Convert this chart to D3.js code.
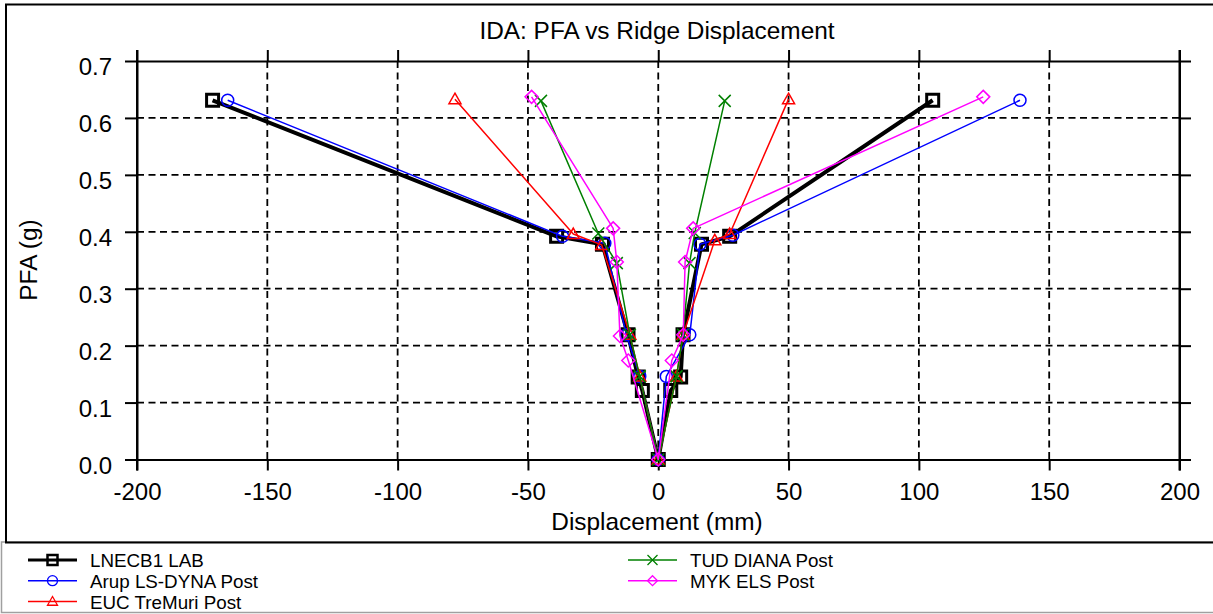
<!DOCTYPE html>
<html>
<head>
<meta charset="utf-8">
<script src="https://cdn.jsdelivr.net/npm/d3@7"></script>
<style>
  html, body { margin: 0; padding: 0; background: #fff; }
  svg { display: block; font-family: "Liberation Sans", Arial, sans-serif; }
</style>
</head>
<body>
<svg id="chart" width="1213" height="614"></svg>
<script>
// tick values
const xTicks = [-200, -150, -100, -50, 0, 50, 100, 150, 200];
const yTicks = [0, 0.1, 0.2, 0.3, 0.4, 0.5, 0.6, 0.7];

// series, each ordered from the negative tip through zero to the positive tip
const lnecDisp = [-171, -39, -21.4, -11.6, -7.7, -6.1, 0, 4.8, 8.6, 9.5, 16.6, 27.4, 105.3];
const lnecPfa  = [0.631, 0.392, 0.378, 0.219, 0.145, 0.121, 0, 0.121, 0.145, 0.219, 0.378, 0.392, 0.631];

const arupDisp = [-165.2, -36.7, -20.5, -12.2, -7.1, 0, 3.1, 12.1, 16, 28.6, 138.8];
const arupPfa  = [0.631, 0.392, 0.38, 0.219, 0.146, 0, 0.146, 0.219, 0.378, 0.394, 0.631];

const eucDisp = [-78, -32.6, -21.7, -10.9, -7.1, 0, 7, 9.5, 21.7, 27.4, 50];
const eucPfa  = [0.633, 0.396, 0.377, 0.219, 0.146, 0, 0.146, 0.219, 0.385, 0.396, 0.633];

const tudDisp = [-45, -23, -15.9, -10.9, -7.1, 0, 7, 9.5, 12, 14, 25.5];
const tudPfa  = [0.63, 0.397, 0.345, 0.219, 0.146, 0, 0.146, 0.219, 0.345, 0.398, 0.63];

const mykDisp = [-48.6, -17.3, -15.9, -14.7, -11.5, 0, 5.2, 9.6, 10.3, 13.4, 124.7];
const mykPfa  = [0.637, 0.406, 0.347, 0.217, 0.174, 0, 0.174, 0.219, 0.347, 0.406, 0.637];

// marker shapes, size = half width
const mk = {
  square: { draw(c, r) { c.rect(-r, -r, 2 * r, 2 * r); } },
  circle: { draw(c, r) { c.moveTo(r, 0); c.arc(0, 0, r, 0, 2 * Math.PI); } },
  triangle: { draw(c, r) { c.moveTo(0, -r); c.lineTo(r, r * 0.75); c.lineTo(-r, r * 0.75); c.closePath(); } },
  times: { draw(c, r) { c.moveTo(-r, -r); c.lineTo(r, r); c.moveTo(r, -r); c.lineTo(-r, r); } },
  diamond: { draw(c, r) { c.moveTo(0, -r); c.lineTo(r, 0); c.lineTo(0, r); c.lineTo(-r, 0); c.closePath(); } }
};

const series = [
  { name: "LNECB1 LAB", disp: lnecDisp, pfa: lnecPfa, color: "#000000", width: 4, shape: mk.square, size: 6, mw: 3 },
  { name: "Arup LS-DYNA Post", disp: arupDisp, pfa: arupPfa, color: "#0000ff", width: 1.5, shape: mk.circle, size: 6, mw: 1.5 },
  { name: "EUC TreMuri Post", disp: eucDisp, pfa: eucPfa, color: "#ff0000", width: 1.5, shape: mk.triangle, size: 6, mw: 1.5 },
  { name: "TUD DIANA Post", disp: tudDisp, pfa: tudPfa, color: "#008000", width: 1.5, shape: mk.times, size: 6, mw: 1.5 },
  { name: "MYK ELS Post", disp: mykDisp, pfa: mykPfa, color: "#ff00ff", width: 1.5, shape: mk.diamond, size: 6.5, mw: 1.5 }
];

const svg = d3.select("#chart");
const plotLeft = 137, plotRight = 1179.5, plotTop = 61, plotBottom = 459.5;
const x = d3.scaleLinear().domain([-200, 200]).range([plotLeft, plotRight]);
const y = d3.scaleLinear().domain([0, 0.7]).range([plotBottom, plotTop]);

// outer frames
svg.append("rect").attr("x", 1.5).attr("y", 542).attr("width", 1230).attr("height", 70.5)
  .attr("fill", "none").attr("stroke", "#a0a0a0").attr("stroke-width", 1.5);
svg.append("rect").attr("x", 6).attr("y", 4.5).attr("width", 1230).attr("height", 538)
  .attr("fill", "none").attr("stroke", "#000").attr("stroke-width", 2);

// dashed grid
const grid = svg.append("g").attr("stroke", "#000").attr("stroke-width", 1.8).attr("stroke-dasharray", "7,4.5");
grid.selectAll(".gx").data(xTicks.slice(1, -1)).join("line")
  .attr("x1", d => x(d)).attr("x2", d => x(d)).attr("y1", plotTop).attr("y2", plotBottom);
grid.selectAll(".gy").data(yTicks.slice(1, -1)).join("line")
  .attr("y1", d => y(d)).attr("y2", d => y(d)).attr("x1", plotLeft).attr("x2", plotRight);

function styleAxis(g) {
  g.select(".domain").attr("stroke", "#000").attr("stroke-width", 2);
  g.selectAll(".tick line").attr("stroke", "#000").attr("stroke-width", 2);
  g.selectAll("text").attr("fill", "#000").attr("font-size", "24px");
  g.attr("font-family", null).attr("font-size", null);
}

svg.append("g").attr("transform", `translate(0,${plotBottom})`)
  .call(d3.axisBottom(x).tickValues(xTicks).tickSizeInner(11).tickSizeOuter(0).tickPadding(12.5).tickFormat(d => String(d)))
  .call(styleAxis);
svg.append("g").attr("transform", `translate(0,${plotTop})`)
  .call(d3.axisTop(x).tickValues(xTicks).tickSizeInner(11).tickSizeOuter(0).tickFormat(""))
  .call(styleAxis);
svg.append("g").attr("transform", `translate(${plotLeft},0)`)
  .call(d3.axisLeft(y).tickValues(yTicks).tickSizeInner(12).tickSizeOuter(0).tickPadding(13).tickFormat(d => d.toFixed(1)))
  .call(styleAxis)
  .call(g => g.selectAll("text").attr("y", 6));
svg.append("g").attr("transform", `translate(${plotRight},0)`)
  .call(d3.axisRight(y).tickValues(yTicks).tickSizeInner(11.5).tickSizeOuter(0).tickFormat(""))
  .call(styleAxis);
// side axes extend past the frame like the ticks
svg.append("g").attr("stroke", "#000").attr("stroke-width", 2)
  .selectAll("line").data([-200, 200]).join("line")
  .attr("x1", d => x(d)).attr("x2", d => x(d)).attr("y1", plotTop - 11).attr("y2", plotBottom + 11);

// titles
svg.append("text").attr("x", 657).attr("y", 39).attr("text-anchor", "middle")
  .attr("font-size", "24.4px").text("IDA: PFA vs Ridge Displacement");
svg.append("text").attr("x", 657).attr("y", 530).attr("text-anchor", "middle")
  .attr("font-size", "24.4px").text("Displacement (mm)");
svg.append("text").attr("transform", "translate(37,260) rotate(-90)").attr("text-anchor", "middle")
  .attr("font-size", "24.4px").text("PFA (g)");

// series
const line = d3.line().x(d => x(d[0])).y(d => y(d[1]));
series.forEach(s => {
  const pts = s.disp.map((d, i) => [d, s.pfa[i]]);
  const g = svg.append("g");
  g.append("path").datum(pts).attr("d", line).attr("fill", "none")
    .attr("stroke", s.color).attr("stroke-width", s.width).attr("stroke-linejoin", "round");
  g.selectAll("path.m").data(pts).join("path").attr("class", "m")
    .attr("transform", d => `translate(${x(d[0])},${y(d[1])})`)
    .attr("d", d3.symbol().type(s.shape).size(s.size))
    .attr("fill", "none").attr("stroke", s.color).attr("stroke-width", s.mw);
});

// legend
const legendPos = [[28, 560], [28, 580.7], [28, 601.5], [628, 560], [628, 580.7]];
const lg = svg.append("g");
series.forEach((s, i) => {
  const [lx, ly] = legendPos[i];
  lg.append("line").attr("x1", lx).attr("x2", lx + 49).attr("y1", ly).attr("y2", ly)
    .attr("stroke", s.color).attr("stroke-width", s.width === 4 ? 3 : 1.5);
  lg.append("path").attr("transform", `translate(${lx + 24.5},${ly})`)
    .attr("d", d3.symbol().type(s.shape).size(5))
    .attr("fill", "none").attr("stroke", s.color).attr("stroke-width", s.mw === 3 ? 2.5 : 1.3);
  lg.append("text").attr("x", lx + 62).attr("y", ly + 7).attr("font-size", "18.8px").text(s.name);
});
</script>
</body>
</html>
